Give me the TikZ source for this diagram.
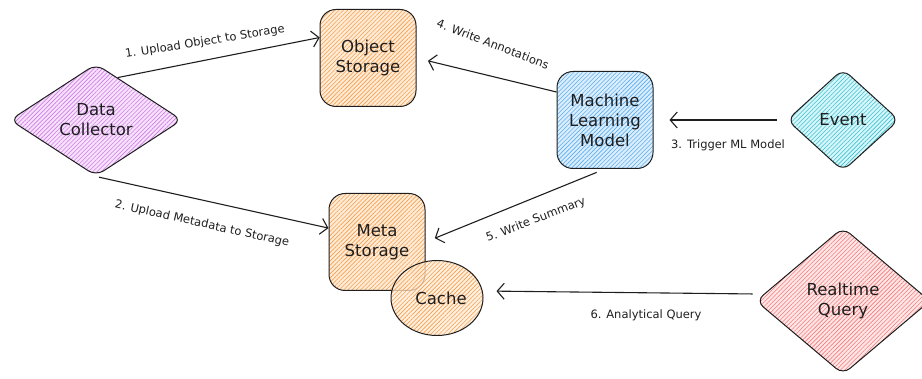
\documentclass[tikz,border=0pt]{standalone}
\usepackage{fontspec}
\setmainfont{DejaVu Sans}
\usetikzlibrary{shapes.geometric,arrows.meta,patterns.meta}
\definecolor{ink}{HTML}{1E1E1E}
\definecolor{orH}{HTML}{F59F4E}
\definecolor{orB}{HTML}{FFEBD6}
\definecolor{puH}{HTML}{D07BE8}
\definecolor{puB}{HTML}{F6E2FB}
\definecolor{blH}{HTML}{5AAEF0}
\definecolor{blB}{HTML}{DCEEFD}
\definecolor{cyH}{HTML}{3DC0D2}
\definecolor{cyB}{HTML}{D6F6F9}
\definecolor{reH}{HTML}{F37B7B}
\definecolor{reB}{HTML}{FFE6E6}
\newcommand{\nodefont}{\fontsize{16.5}{20}\selectfont}
\newcommand{\labfont}{\fontsize{11.5}{13}\selectfont}
\tikzset{
  base/.style={draw=ink, line width=1pt, align=center, font=\nodefont, text=ink, inner sep=0pt},
  hatch/.style 2 args={preaction={fill=#2}, pattern={Lines[angle=45,distance=3pt,line width=0.6pt]}, pattern color=#1},
  rbox/.style={base, rectangle, rounded corners=16pt, minimum width=96pt, minimum height=97pt},
  dia/.style={base, diamond, rounded corners=9pt},
  conn/.style={draw=ink, line width=1.1pt, -{Straight Barb[length=7pt,width=16pt]}},
  lab/.style={font=\labfont, text=ink, inner sep=0pt}
}
\begin{document}
\begin{tikzpicture}[x=1pt, y=-1pt]
\useasboundingbox (0,0) rectangle (922,379);
% nodes
\node[rbox, hatch={orH}{orB}] (os) at (368,58) {Object\\Storage};
\node[rbox, hatch={orH}{orB}] (ms) at (377,242) {Meta\\Storage};
\node[base, ellipse, minimum width=92pt, minimum height=75pt, fill opacity=0.75, draw opacity=1, text opacity=1, hatch={orH}{orB}] (ca) at (437,298) {};
\node[font=\nodefont, text=ink] (cat) at (441,298) {Cache};
\node[rbox, hatch={blH}{blB}] (ml) at (605,120) {Machine\\Learning\\Model};
\node[dia, minimum width=172pt, minimum height=112pt, hatch={puH}{puB}] (dc) at (96,120) {Data\\Collector};
\node[dia, minimum width=112pt, minimum height=102pt, hatch={cyH}{cyB}] (ev) at (843,120) {Event};
\node[dia, minimum width=174pt, minimum height=147pt, hatch={reH}{reB}] (rq) at (843,301) {Realtime\\Query};
% connectors
\draw[conn] (dc.63) -- (os.157);
\draw[conn, shorten <=3pt] (dc.south) -- (ms.164);
\draw[conn, shorten <=10pt, shorten >=16pt] (ev.west) -- (ml.east);
\draw[conn, shorten >=12pt] (ml.150) -- (os.east);
\draw[conn, shorten <=9pt, shorten >=10pt] (ml.south) -- (ms.east);
\draw[conn, shorten <=3pt, shorten >=13pt] ([yshift=7pt]rq.west) -- ([yshift=7pt]ca.east);
% labels
\node[lab, rotate=9] (l1) at (205,42) {1. Upload Object to Storage};
\node[lab, rotate=-12.6] (l2) at (202,224) {2. Upload Metadata to Storage};
\node[lab] (l3) at (728,145) {3. Trigger ML Model};
\node[lab, rotate=-21] (l4) at (493,44) {4. Write Annotations};
\node[lab, rotate=21] (l5) at (536,220) {5. Write Summary};
\node[lab] (l6) at (646,315) {6. Analytical Query};
\end{tikzpicture}
\end{document}
